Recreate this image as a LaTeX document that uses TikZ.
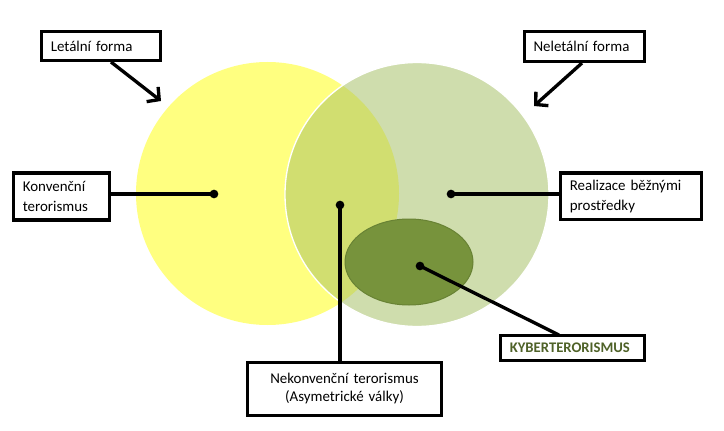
\documentclass[tikz,border=0pt]{standalone}
\usepackage{fontspec}
\setmainfont{Carlito}
\usetikzlibrary{arrows.meta}
\definecolor{cyel}{RGB}{255,255,128}
\definecolor{cgrn}{RGB}{207,221,173}
\definecolor{clens}{RGB}{209,222,112}
\definecolor{cell}{RGB}{119,147,60}
\definecolor{cellb}{RGB}{104,130,52}
\definecolor{ctxt}{RGB}{79,98,40}
\begin{document}
\begin{tikzpicture}[x=0.75pt,y=-0.75pt,
  box/.style={draw=black,line width=2.7pt,rectangle,inner ysep=0pt,font=\fontsize{11.2pt}{15pt}\selectfont},
  conn/.style={line width=2.5pt},
  arr/.style={line width=2.5pt,-{Straight Barb[length=6.5pt,width=14pt]}},
  dot/.style={circle,fill=black,inner sep=0pt,minimum size=6.5pt}]
\useasboundingbox (0,0) rectangle (724,431);
\fill[white] (0,0) rectangle (724,431);
% circles
\fill[cyel] (267.5,193.5) circle[radius=131.5];
\fill[cgrn] (417,194.5) circle[radius=132];
\begin{scope}
  \clip (267.5,193.5) circle[radius=131.5];
  \fill[clens] (417,194.5) circle[radius=132];
\end{scope}
\draw[white,line width=1pt] (417,194.5) circle[radius=132];
\filldraw[fill=cell,draw=cellb,line width=0.75pt] (409,262) ellipse[x radius=64,y radius=43];
% dots
\node[dot] (d1) at (214,194) {};
\node[dot] (d2) at (340,205) {};
\node[dot] (d3) at (451,194) {};
\node[dot] (d4) at (420,266) {};
% boxes
\node[box,minimum height=21.75pt,inner xsep=7pt,text width=75.25pt,align=left] (let) at (101,46) {Letální forma};
\node[box,minimum height=22.5pt,inner xsep=6.75pt,text width=76.5pt,align=left] (nelet) at (584.5,46.5) {Neletální forma};
\node[box,minimum height=35.25pt,inner xsep=7pt,text width=58pt,align=left] (konv) at (61.5,196.5) {Konvenční\\terorismus};
\node[box,minimum height=34.9pt,inner xsep=7pt,text width=91.75pt,align=left] (real) at (631,196.25) {Realizace běžnými\\prostředky};
\node[box,minimum height=39.75pt,inner xsep=4pt,text width=137.5pt,align=center,font=\fontsize{11.2pt}{13.5pt}\selectfont] (nek) at (344.5,389) {Nekonvenční terorismus\\(Asymetrické války)};
\node[box,minimum height=18.75pt,inner xsep=7pt,text width=94pt,align=left,text=ctxt,font=\fontsize{11pt}{13pt}\selectfont\bfseries] (kyb) at (572.5,348) {KYBERTERORISMUS};
% connector end points
\coordinate (la) at (111,62);
\coordinate (lb) at (161,101);
\coordinate (na) at (582,63);
\coordinate (nb) at (534,106);
\coordinate (ka) at (559,335);
% connectors
\draw[arr] (la) -- (lb);
\draw[arr] (na) -- (nb);
\draw[conn] (konv.east |- d1) -- (d1.center);
\draw[conn] (real.west |- d3) -- (d3.center);
\draw[conn] (d2.center) -- (d2 |- nek.north);
\draw[conn] (d4.center) -- (ka);
\end{tikzpicture}
\end{document}
